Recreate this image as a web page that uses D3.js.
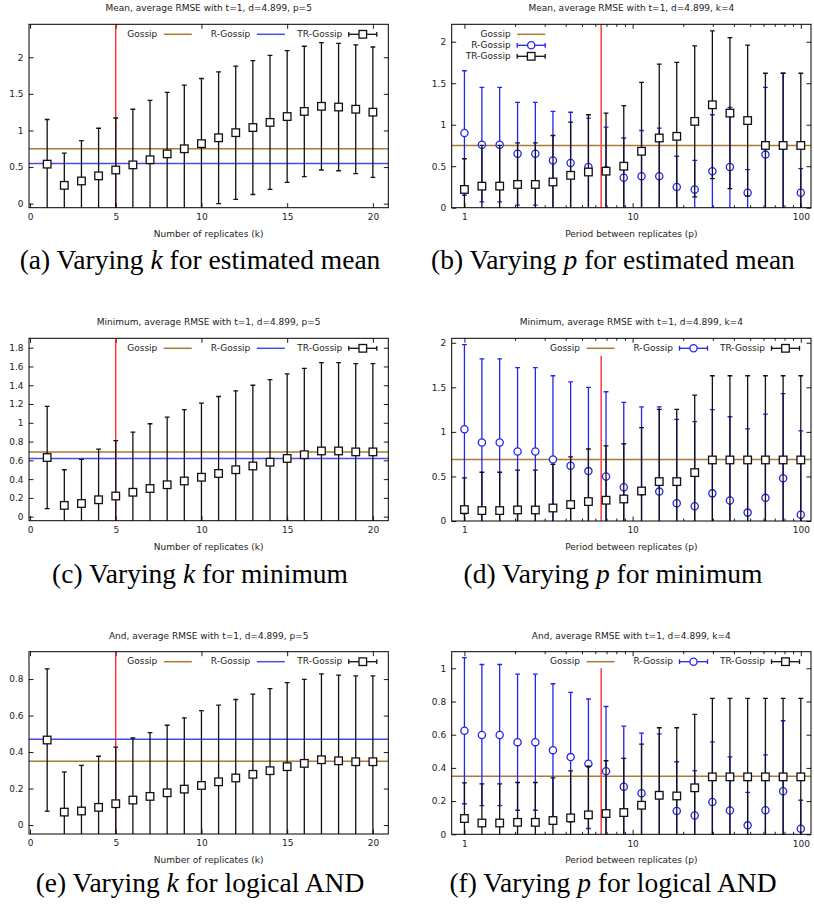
<!DOCTYPE html>
<html>
<head>
<meta charset="utf-8">
<script src="https://cdn.jsdelivr.net/npm/d3@7"></script>
<style>
  body { margin: 0; background: #fff; }
  svg text { font-family: "DejaVu Sans", sans-serif; font-size: 9px; fill: #222; }
  svg text.caption { font-family: "Liberation Serif", serif; font-size: 27.5px; fill: #000; }
</style>
</head>
<body>
<svg id="fig" width="814" height="908"></svg>
<script>
// ---- x positions ----
const kValues = [1, 2, 3, 4, 5, 6, 7, 8, 9, 10, 11, 12, 13, 14, 15, 16, 17, 18, 19, 20];
const pValues = [1, 1.27, 1.62, 2.07, 2.64, 3.36, 4.28, 5.46, 6.95, 8.86, 11.3, 14.4, 18.3, 23.4, 29.8, 37.9, 48.3, 61.6, 78.5, 100];

// ---- (a) mean, varying k ----
const meanKGossip = 0.75;
const meanKRGossip = 0.55;
const meanKTR    = [0.54, 0.25, 0.31, 0.38, 0.46, 0.53, 0.60, 0.68, 0.75, 0.82, 0.90, 0.97, 1.04, 1.11, 1.19, 1.26, 1.33, 1.32, 1.29, 1.25];
const meanKTRErr = [0.61, 0.44, 0.55, 0.65, 0.71, 0.76, 0.81, 0.84, 0.87, 0.89, 0.90, 0.91, 0.915, 0.915, 0.90, 0.89, 0.87, 0.87, 0.88, 0.89];

// ---- (b) mean, varying p ----
const meanPGossip = 0.75;
const meanPR     = [0.90, 0.76, 0.76, 0.65, 0.65, 0.57, 0.54, 0.49, 0.45, 0.36, 0.38, 0.38, 0.25, 0.22, 0.44, 0.49, 0.18, 0.64, 0.75, 0.18];
const meanPRErr  = [0.75, 0.69, 0.69, 0.62, 0.62, 0.59, 0.61, 0.59, 0.52, 0.48, 0.55, 0.58, 0.37, 0.35, 0.68, 0.72, 0.28, 0.81, 0.87, 0.29];
const meanPTR    = [0.22, 0.26, 0.26, 0.28, 0.28, 0.31, 0.39, 0.43, 0.44, 0.50, 0.68, 0.84, 0.86, 1.04, 1.24, 1.14, 1.05, 0.75, 0.75, 0.75];
const meanPTRErr = [0.37, 0.49, 0.49, 0.50, 0.50, 0.56, 0.64, 0.69, 0.70, 0.73, 0.83, 0.89, 0.89, 0.91, 0.89, 0.91, 0.91, 0.87, 0.87, 0.87];

// ---- (c) minimum, varying k ----
const minKGossip = 0.69;
const minKRGossip = 0.62;
const minKTR    = [0.63, 0.12, 0.14, 0.18, 0.22, 0.26, 0.30, 0.34, 0.38, 0.42, 0.46, 0.50, 0.54, 0.58, 0.62, 0.66, 0.70, 0.70, 0.69, 0.69];
const minKTRErr = [0.545, 0.38, 0.47, 0.54, 0.59, 0.64, 0.69, 0.72, 0.76, 0.79, 0.82, 0.84, 0.86, 0.88, 0.90, 0.92, 0.94, 0.94, 0.94, 0.94];

// ---- (d) minimum, varying p ----
const minPGossip = 0.69;
const minPR     = [1.03, 0.88, 0.88, 0.78, 0.78, 0.69, 0.62, 0.56, 0.50, 0.38, 0.33, 0.33, 0.20, 0.165, 0.31, 0.23, 0.094, 0.26, 0.48, 0.071];
const minPRErr  = [0.95, 0.94, 0.94, 0.94, 0.94, 0.94, 0.94, 0.94, 0.95, 0.95, 0.95, 0.95, 0.94, 0.95, 0.94, 0.94, 0.94, 0.94, 0.95, 0.94];
const minPTR    = [0.128, 0.117, 0.117, 0.124, 0.124, 0.146, 0.184, 0.218, 0.233, 0.247, 0.337, 0.442, 0.442, 0.543, 0.685, 0.685, 0.685, 0.685, 0.685, 0.685];
const minPTRErr = [0.355, 0.43, 0.43, 0.446, 0.446, 0.49, 0.536, 0.59, 0.61, 0.62, 0.71, 0.81, 0.81, 0.87, 0.945, 0.945, 0.945, 0.945, 0.945, 0.945];

// ---- (e) logical AND, varying k ----
const andKGossip = 0.35;
const andKRGossip = 0.47;
const andKTR    = [0.466, 0.071, 0.077, 0.097, 0.117, 0.137, 0.157, 0.177, 0.197, 0.217, 0.237, 0.258, 0.278, 0.298, 0.32, 0.338, 0.358, 0.352, 0.347, 0.347];
const andKTRErr = [0.39, 0.22, 0.25, 0.28, 0.31, 0.34, 0.35, 0.37, 0.39, 0.41, 0.42, 0.43, 0.44, 0.45, 0.46, 0.46, 0.47, 0.47, 0.47, 0.47];

// ---- (f) logical AND, varying p ----
const andPGossip = 0.35;
const andPR     = [0.624, 0.598, 0.598, 0.555, 0.555, 0.507, 0.465, 0.425, 0.38, 0.286, 0.247, 0.237, 0.141, 0.113, 0.195, 0.143, 0.054, 0.145, 0.26, 0.034];
const andPRErr  = [0.44, 0.425, 0.425, 0.41, 0.41, 0.40, 0.39, 0.39, 0.39, 0.366, 0.363, 0.368, 0.296, 0.271, 0.362, 0.324, 0.198, 0.334, 0.424, 0.171];
const andPTR    = [0.095, 0.068, 0.068, 0.072, 0.072, 0.083, 0.099, 0.117, 0.125, 0.131, 0.175, 0.235, 0.231, 0.28, 0.346, 0.346, 0.346, 0.346, 0.346, 0.346];
const andPTRErr = [0.215, 0.236, 0.236, 0.24, 0.24, 0.257, 0.283, 0.293, 0.318, 0.326, 0.368, 0.407, 0.411, 0.442, 0.473, 0.473, 0.473, 0.473, 0.473, 0.473];

// ---- axis ticks ----
const kTicks = [0, 5, 10, 15, 20];
const pTicks = [1, 10, 100];
const pMinorTicks = [2, 3, 4, 5, 6, 7, 8, 9, 20, 30, 40, 50, 60, 70, 80, 90];
const yTicksHalf = [0, 0.5, 1, 1.5, 2];
const yTicksMin  = [0, 0.2, 0.4, 0.6, 0.8, 1, 1.2, 1.4, 1.6, 1.8];
const yTicksAndK = [0, 0.2, 0.4, 0.6, 0.8];
const yTicksAndP = [0, 0.2, 0.4, 0.6, 0.8, 1];

const colGossip = "#a77a36";
const colR = "#2424ee";
const colRLine = "#4b4be6";
const colTR = "#111";
const colRed = "#ff1a1a";

const svg = d3.select("#fig");
const plotW = 359.3;

const panels = [
  { id: "a", left: 29, top: 24.3, h: 183.4, log: false, xDomain: [-0.06, 20.9], yDomain: [-0.055, 2.45], yTicks: yTicksHalf,
    title: "Mean, average RMSE with t=1, d=4.899, p=5", gossip: meanKGossip, rLine: meanKRGossip,
    tr: { y: meanKTR, e: meanKTRErr }, legend: "row", redX: 5, redTop: null,
    cap: ["(a) Varying ", "k", " for estimated mean"], capY: 263 },
  { id: "b", left: 451.7, top: 24.3, h: 183.4, log: true, xDomain: [0.84, 115], yDomain: [0, 2.21], yTicks: yTicksHalf,
    title: "Mean, average RMSE with t=1, d=4.899, k=4", gossip: meanPGossip,
    r: { y: meanPR, e: meanPRErr }, tr: { y: meanPTR, e: meanPTRErr }, legend: "col", redX: 6.5, redTop: null,
    cap: ["(b) Varying ", "p", " for estimated mean"], capY: 263 },
  { id: "c", left: 29, top: 338.3, h: 182.4, log: false, xDomain: [-0.06, 20.9], yDomain: [-0.043, 1.9], yTicks: yTicksMin,
    title: "Minimum, average RMSE with t=1, d=4.899, p=5", gossip: minKGossip, rLine: minKRGossip,
    tr: { y: minKTR, e: minKTRErr }, legend: "row", redX: 5, redTop: null,
    cap: ["(c) Varying ", "k", " for minimum"], capY: 577 },
  { id: "d", left: 451.7, top: 338.3, h: 182.7, log: true, xDomain: [0.84, 115], yDomain: [0, 2.05], yTicks: yTicksHalf,
    title: "Minimum, average RMSE with t=1, d=4.899, k=4", gossip: minPGossip,
    r: { y: minPR, e: minPRErr }, tr: { y: minPTR, e: minPTRErr }, legend: "row", redX: 6.5, redTop: 1.85,
    cap: ["(d) Varying ", "p", " for minimum"], capY: 577 },
  { id: "e", left: 29, top: 651.7, h: 182.3, log: false, xDomain: [-0.06, 20.9], yDomain: [-0.049, 0.95], yTicks: yTicksAndK,
    title: "And, average RMSE with t=1, d=4.899, p=5", gossip: andKGossip, rLine: andKRGossip,
    tr: { y: andKTR, e: andKTRErr }, legend: "row", redX: 5, redTop: null,
    cap: ["(e) Varying ", "k", " for logical AND"], capY: 886 },
  { id: "f", left: 451.7, top: 651.7, h: 182.6, log: true, xDomain: [0.84, 115], yDomain: [0, 1.10], yTicks: yTicksAndP,
    title: "And, average RMSE with t=1, d=4.899, k=4", gossip: andPGossip,
    r: { y: andPR, e: andPRErr }, tr: { y: andPTR, e: andPTRErr }, legend: "row", redX: 6.5, redTop: 1.0,
    cap: ["(f) Varying ", "p", " for logical AND"], capY: 886 }
];

const fmt = d3.format("~g");

function drawErrorSeries(g, xs, s, x, y, color, shape) {
  const pts = xs.map((xv, i) => ({ x: xv, m: s.y[i], e: s.e[i] }));
  const bars = g.append("g").attr("stroke", color).attr("stroke-width", 1.3);
  pts.forEach(d => {
    const px = x(d.x), lo = y(d.m - d.e), hi = y(d.m + d.e);
    bars.append("line").attr("x1", px).attr("x2", px).attr("y1", lo).attr("y2", hi);
    bars.append("line").attr("x1", px - 2.4).attr("x2", px + 2.4).attr("y1", lo).attr("y2", lo);
    bars.append("line").attr("x1", px - 2.4).attr("x2", px + 2.4).attr("y1", hi).attr("y2", hi);
  });
  drawMarkers(g, pts.map(d => [x(d.x), y(d.m)]), color, shape);
}

function drawMarkers(g, coords, color, shape) {
  coords.forEach(([cx, cy]) => {
    if (shape === "square") {
      g.append("rect").attr("x", cx - 3.8).attr("y", cy - 3.8).attr("width", 7.6).attr("height", 7.6)
        .attr("fill", "#fff").attr("stroke", color).attr("stroke-width", 1.3);
    } else {
      g.append("circle").attr("cx", cx).attr("cy", cy).attr("r", 3.6)
        .attr("fill", "#fff").attr("stroke", color).attr("stroke-width", 1.3);
    }
  });
}

// legend entry: text right-aligned at tx, sample drawn over 28px after it
function legendEntry(g, label, tx, ly, kind, color, shape) {
  g.append("text").attr("x", tx).attr("y", ly).attr("text-anchor", "end")
    .attr("dominant-baseline", "middle").text(label);
  const sx = tx + 6.5, ex = sx + 28;
  if (kind === "line") {
    g.append("line").attr("x1", sx).attr("x2", ex).attr("y1", ly).attr("y2", ly)
      .attr("stroke", color).attr("stroke-width", 1.5);
  } else {
    const s = g.append("g").attr("stroke", color).attr("stroke-width", 1.3);
    s.append("line").attr("x1", sx).attr("x2", ex).attr("y1", ly).attr("y2", ly);
    s.append("line").attr("x1", sx).attr("x2", sx).attr("y1", ly - 2.4).attr("y2", ly + 2.4);
    s.append("line").attr("x1", ex).attr("x2", ex).attr("y1", ly - 2.4).attr("y2", ly + 2.4);
    drawMarkers(g, [[(sx + ex) / 2, ly]], color, shape);
  }
}

panels.forEach(p => {
  const right = p.left + plotW, bottom = p.top + p.h;
  const x = (p.log ? d3.scaleLog() : d3.scaleLinear()).domain(p.xDomain).range([p.left, right]);
  const y = d3.scaleLinear().domain(p.yDomain).range([bottom, p.top]);
  const xs = p.log ? pValues : kValues;
  const g = svg.append("g");

  g.append("clipPath").attr("id", "clip-" + p.id)
    .append("rect").attr("x", p.left).attr("y", p.top).attr("width", plotW).attr("height", p.h);

  // title and x label
  g.append("text").attr("x", p.left + plotW / 2).attr("y", p.top - 15.5)
    .attr("text-anchor", "middle").attr("dominant-baseline", "middle").text(p.title);
  g.append("text").attr("x", p.left + plotW / 2).attr("y", bottom + 26.5)
    .attr("text-anchor", "middle").attr("dominant-baseline", "middle")
    .text(p.log ? "Period between replicates (p)" : "Number of replicates (k)");

  // axes with inward, mirrored ticks
  const xt = p.log ? pTicks : kTicks;
  g.append("g").attr("transform", `translate(0,${bottom})`)
    .call(d3.axisBottom(x).tickValues(xt).tickFormat(fmt).tickSize(-4.5).tickPadding(6));
  g.append("g").attr("transform", `translate(0,${p.top})`)
    .call(d3.axisTop(x).tickValues(xt).tickFormat("").tickSize(-4.5));
  g.append("g").attr("transform", `translate(${p.left},0)`)
    .call(d3.axisLeft(y).tickValues(p.yTicks).tickFormat(fmt).tickSize(-4.5).tickPadding(5.5));
  g.append("g").attr("transform", `translate(${right},0)`)
    .call(d3.axisRight(y).tickValues(p.yTicks).tickFormat("").tickSize(-4.5));
  if (p.log) {
    g.append("g").attr("transform", `translate(0,${bottom})`)
      .call(d3.axisBottom(x).tickValues(pMinorTicks).tickFormat("").tickSize(-2.5));
    g.append("g").attr("transform", `translate(0,${p.top})`)
      .call(d3.axisTop(x).tickValues(pMinorTicks).tickFormat("").tickSize(-2.5));
  }
  g.selectAll(".domain").remove();
  g.selectAll(".tick line").attr("stroke", "#000").attr("stroke-width", 0.9);
  g.selectAll(".tick text").attr("font-size", 9).attr("fill", "#222")
    .attr("font-family", "DejaVu Sans, sans-serif");

  // data layer
  const d = g.append("g").attr("clip-path", `url(#clip-${p.id})`);
  const redTop = p.redTop == null ? p.top : y(p.redTop);
  d.append("line").attr("x1", x(p.redX)).attr("x2", x(p.redX)).attr("y1", redTop).attr("y2", bottom)
    .attr("stroke", colRed).attr("stroke-width", 1.3);
  d.append("line").attr("x1", p.left).attr("x2", right).attr("y1", y(p.gossip)).attr("y2", y(p.gossip))
    .attr("stroke", colGossip).attr("stroke-width", 1.5);
  if (p.rLine != null) {
    d.append("line").attr("x1", p.left).attr("x2", right).attr("y1", y(p.rLine)).attr("y2", y(p.rLine))
      .attr("stroke", colRLine).attr("stroke-width", 1.5);
  }
  if (p.r) drawErrorSeries(d, xs, p.r, x, y, colR, "circle");
  drawErrorSeries(d, xs, p.tr, x, y, colTR, "square");

  // frame
  g.append("rect").attr("x", p.left).attr("y", p.top).attr("width", plotW).attr("height", p.h)
    .attr("fill", "none").attr("stroke", "#000").attr("stroke-width", 1);

  // legend
  const lg = g.append("g");
  if (p.legend === "row") {
    const ly = p.top + 10;
    legendEntry(lg, "Gossip", right - 231, ly, "line", colGossip);
    if (p.r) legendEntry(lg, "R-Gossip", right - 138, ly, "bar", colR, "circle");
    else legendEntry(lg, "R-Gossip", right - 138, ly, "line", colRLine);
    legendEntry(lg, "TR-Gossip", right - 46, ly, "bar", colTR, "square");
  } else {
    legendEntry(lg, "Gossip", p.left + 59, p.top + 10, "line", colGossip);
    legendEntry(lg, "R-Gossip", p.left + 59, p.top + 21, "bar", colR, "circle");
    legendEntry(lg, "TR-Gossip", p.left + 59, p.top + 32, "bar", colTR, "square");
  }

  // sub-figure caption
  const cx = p.log ? 613 : 200;
  const cap = svg.append("text").attr("class", "caption").attr("x", cx).attr("y", p.capY)
    .attr("text-anchor", "middle").attr("dominant-baseline", "middle");
  cap.append("tspan").text(p.cap[0]);
  cap.append("tspan").attr("font-style", "italic").text(p.cap[1]);
  cap.append("tspan").text(p.cap[2]);
});
</script>
</body>
</html>
